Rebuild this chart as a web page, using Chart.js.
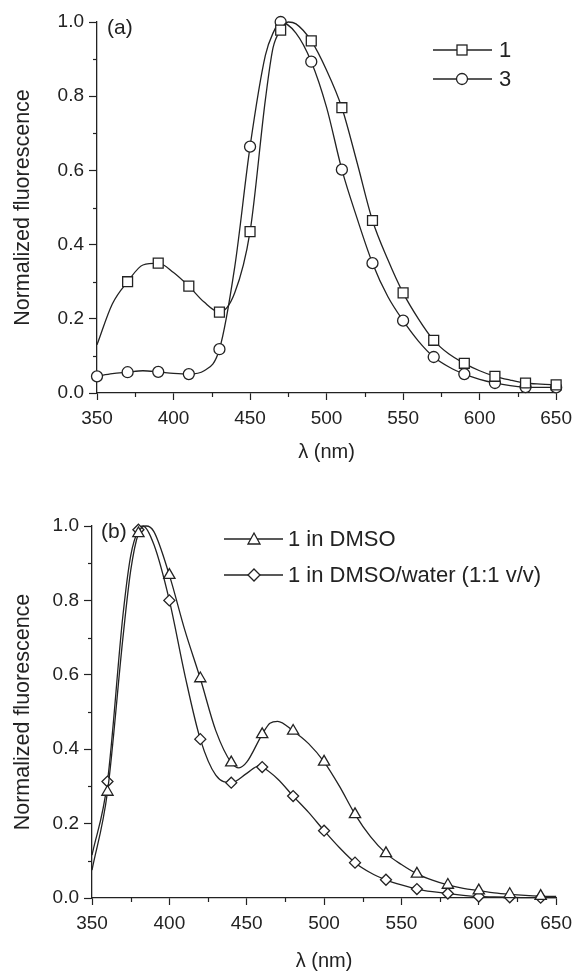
<!DOCTYPE html>
<html><head><meta charset="utf-8">
<script src="https://cdn.jsdelivr.net/npm/chart.js@4"></script>
<style>
html,body{margin:0;padding:0;background:#fff;width:579px;height:974px;overflow:hidden;font-family:"Liberation Sans",Arial,sans-serif;color:#222}
.box{position:absolute;left:0;width:579px}
.lbl{position:absolute;font-size:22px;line-height:1;white-space:nowrap;color:#222}
svg.leg{position:absolute;overflow:visible}
</style></head><body>
<div class="box" style="top:0;height:465px"><canvas id="ca" width="579" height="465"></canvas></div>
<div class="box" style="top:470px;height:504px"><canvas id="cb" width="579" height="504"></canvas></div>

<div class="lbl" style="left:107px;top:16px;font-size:21px">(a)</div>
<div class="lbl" style="left:101px;top:520px;font-size:21px">(b)</div>

<svg class="leg" style="left:0;top:0" width="579" height="974">
  <g stroke="#222" stroke-width="1.3" fill="#fff">
    <line x1="433" y1="50" x2="492" y2="50"/><rect x="457" y="45" width="10" height="10"/>
    <line x1="433" y1="79" x2="492" y2="79"/><circle cx="462" cy="79" r="5.5"/>
    <line x1="224" y1="539" x2="283" y2="539"/><polygon points="254,533 260,544 248,544"/>
    <line x1="224" y1="575" x2="283" y2="575"/><polygon points="254,569 260,575 254,581 248,575"/>
  </g>
</svg>
<div class="lbl" style="left:499px;top:39px">1</div>
<div class="lbl" style="left:499px;top:68px">3</div>
<div class="lbl" style="left:288px;top:528px">1 in DMSO</div>
<div class="lbl" style="left:288px;top:564px">1 in DMSO/water (1:1 v/v)</div>

<script>
// ---- Panel (a) data ----
const wlA1 = [350,360,370,380,390,400,410,420,430,440,450,460,465,470,475,480,490,500,510,520,530,540,550,560,570,580,590,600,610,620,630,640,650];
const valA1 = [0.13,0.24,0.30,0.345,0.35,0.325,0.288,0.245,0.218,0.27,0.435,0.79,0.93,0.978,1.0,0.995,0.949,0.87,0.769,0.62,0.465,0.36,0.27,0.20,0.142,0.105,0.08,0.06,0.045,0.035,0.027,0.024,0.022];
const marksA1 = [370,390,410,430,450,470,490,510,530,550,570,590,610,630,650];

const wlA3 = [350,360,370,380,390,400,410,420,430,440,450,460,465,470,480,490,500,510,520,530,540,550,560,570,580,590,600,610,620,630,640,650];
const valA3 = [0.045,0.052,0.056,0.06,0.057,0.053,0.051,0.06,0.118,0.34,0.664,0.91,0.97,1.0,0.97,0.893,0.77,0.602,0.47,0.35,0.26,0.195,0.14,0.097,0.07,0.051,0.037,0.027,0.02,0.016,0.015,0.015];
const marksA3 = [350,370,390,410,430,450,470,490,510,530,550,570,590,610,630,650];

// ---- Panel (b) data ----
const wlB1 = [350,360,370,375,380,385,390,400,410,420,430,440,445,450,460,465,470,480,490,500,510,520,530,540,550,560,570,580,590,600,610,620,630,640,650];
const valB1 = [0.075,0.285,0.70,0.88,0.98,1.0,0.985,0.868,0.72,0.59,0.45,0.364,0.35,0.365,0.44,0.47,0.475,0.449,0.415,0.366,0.30,0.225,0.165,0.12,0.09,0.065,0.048,0.035,0.026,0.02,0.014,0.01,0.007,0.005,0.004];
const wlB2 = [350,360,370,375,380,383,390,400,410,420,430,440,450,458,460,470,480,490,500,510,520,530,540,550,560,570,580,590,600,610,620,630,640,650];
const valB2 = [0.115,0.313,0.76,0.92,0.99,1.0,0.95,0.80,0.60,0.427,0.33,0.31,0.335,0.355,0.352,0.32,0.274,0.23,0.181,0.135,0.095,0.068,0.049,0.035,0.024,0.017,0.012,0.007,0.004,0.003,0.002,0.001,0.001,0.001];
const marksB = [360,380,400,420,440,460,480,500,520,540,560,580,600,620,640];

const xTicks = [350,400,450,500,550,600,650];
const yTicks = [0.0,0.2,0.4,0.6,0.8,1.0];

const INK = '#222';
const FONT = '"Liberation Sans", Arial, sans-serif';

function pts(xs, ys){ return xs.map((x,i)=>({x:x, y:ys[i]})); }
function ds(xs, ys, marks, style, r){
  return {
    data: pts(xs, ys),
    borderColor: INK, borderWidth: 1.3,
    backgroundColor: '#fff', pointBackgroundColor: '#fff', pointBorderColor: INK, pointBorderWidth: 1.3,
    pointStyle: style,
    pointRadius: (c)=> (c.raw && marks.includes(c.raw.x)) ? r : 0,
    pointHoverRadius: (c)=> (c.raw && marks.includes(c.raw.x)) ? r : 0,
    cubicInterpolationMode: 'monotone', tension: 0.4, fill: false, clip: false
  };
}

const minorTicks = {
  id: 'minorTicks',
  afterDraw(chart){
    const {ctx, scales:{x, y}, chartArea:a} = chart;
    ctx.save(); ctx.strokeStyle = INK; ctx.lineWidth = 1.2;
    for (let i=0;i<xTicks.length-1;i++){
      const px = Math.round(x.getPixelForValue((xTicks[i]+xTicks[i+1])/2))+0.5;
      ctx.beginPath(); ctx.moveTo(px, a.bottom); ctx.lineTo(px, a.bottom+4); ctx.stroke();
    }
    for (let i=0;i<yTicks.length-1;i++){
      const py = Math.round(y.getPixelForValue((yTicks[i]+yTicks[i+1])/2))+0.5;
      ctx.beginPath(); ctx.moveTo(a.left-4, py); ctx.lineTo(a.left, py); ctx.stroke();
    }
    ctx.restore();
  }
};

function makeChart(id, datasets, pad, yW, xH){
  return new Chart(document.getElementById(id), {
    type: 'line',
    data: { datasets },
    plugins: [minorTicks],
    options: {
      responsive: false, animation: false, devicePixelRatio: 1, events: [],
      layout: { padding: pad },
      plugins: { legend: {display:false}, tooltip: {enabled:false} },
      scales: {
        x: {
          type: 'linear', min: 350, max: 650,
          afterBuildTicks: (s)=>{ s.ticks = xTicks.map(v=>({value:v})); },
          afterFit: (s)=>{ s.height = xH; },
          grid: { drawOnChartArea:false, drawTicks:true, tickLength:7, color: INK, tickWidth: 1.2 },
          border: { display:true, color: INK, width: 1.3 },
          ticks: { color: INK, font: {family: FONT, size: 19}, padding: 7, maxRotation: 0, autoSkip: false },
          title: { display:true, text: 'λ (nm)', color: INK, font:{family: FONT, size: 20}, padding: {top:0, bottom:1} }
        },
        y: {
          type: 'linear', min: 0, max: 1.0,
          afterBuildTicks: (s)=>{ s.ticks = yTicks.map(v=>({value:v})); },
          afterFit: (s)=>{ s.width = yW; },
          grid: { drawOnChartArea:false, drawTicks:true, tickLength:8, color: INK, tickWidth: 1.2 },
          border: { display:true, color: INK, width: 1.3 },
          ticks: { color: INK, font: {family: FONT, size: 19}, padding: 5, callback: (v)=>Number(v).toFixed(1) },
          title: { display:true, text: 'Normalized fluorescence', color: INK, font:{family: FONT, size: 21.5}, padding: {top:10, bottom:0} }
        }
      }
    }
  });
}

makeChart('ca', [
  ds(wlA1, valA1, marksA1, 'rect', 7),
  ds(wlA3, valA3, marksA3, 'circle', 5.5)
], {top:22, right:15, left:0, bottom:0}, 97, 72);

makeChart('cb', [
  ds(wlB1, valB1, marksB, 'triangle', 6.5),
  ds(wlB2, valB2, marksB, 'rectRot', 5.5)
], {top:56, right:20, left:0, bottom:0}, 92, 76);
</script>
</body></html>
